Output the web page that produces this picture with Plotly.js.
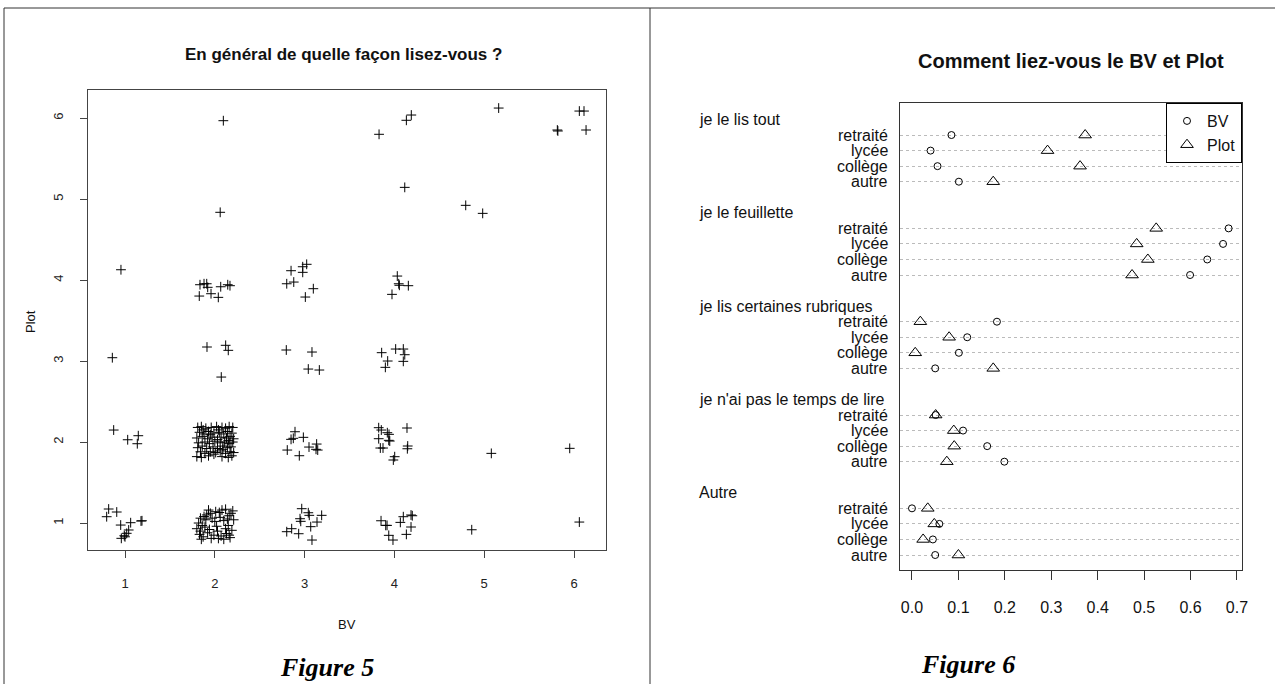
<!DOCTYPE html>
<html><head><meta charset="utf-8">
<script src="https://cdn.plot.ly/plotly-3.0.1.min.js"></script>
<style>html,body{margin:0;padding:0;background:#fff}#chart{width:1275px;height:684px}</style>
</head><body><div id="chart"></div><script>
// ---------- Figure 5: jittered scatter BV vs Plot ----------
const scatterBV = [
  2.095, 2.06, 0.955, 5.161, 6.059, 6.111, 5.814, 5.820, 6.134, 4.188, 4.133, 3.829, 4.115, 4.794, 4.983,
  1.835, 1.880, 1.910, 1.921, 2.066, 2.144, 2.169, 1.827, 1.958, 2.039,
  2.849, 2.979, 3.023, 2.979, 2.801, 2.879, 3.097, 3.008,
  4.032, 4.048, 4.055, 4.155, 3.973,
  0.859,
  1.913, 2.121, 2.150, 2.072,
  2.796, 3.082, 3.041, 3.164,
  3.858, 4.014, 4.099, 4.115, 3.925, 4.099, 3.899,
  0.874, 1.030, 1.148, 1.137,
  1.81, 1.85, 1.90, 1.96, 2.02, 2.08, 2.12, 2.16, 2.20,
  1.83, 1.88, 1.93, 1.99, 2.05, 2.10, 2.14, 2.19,
  1.80, 1.86, 1.92, 1.97, 2.03, 2.07, 2.13, 2.17, 2.21,
  1.82, 1.89, 1.94, 2.00, 2.06, 2.11, 2.16, 2.20,
  1.81, 1.86, 1.91, 1.98, 2.03, 2.09, 2.14, 2.18,
  1.84, 1.89, 1.95, 2.01, 2.06, 2.12, 2.17, 2.21,
  1.80, 1.85, 1.93, 2.08, 2.15, 2.19,
  1.87, 2.04, 2.15, 1.95, 2.09, 1.99,
  2.893, 2.849, 2.874, 2.986, 2.807, 2.941, 3.049, 3.134, 3.127, 3.146,
  3.825, 3.854, 3.921, 3.940, 4.140, 3.825, 3.937, 3.948, 3.843, 3.873, 4.148, 4.144, 4.003, 3.988,
  5.079, 5.952,
  0.818, 0.908, 0.796, 0.952, 1.063, 1.178, 1.189, 1.041, 1.019, 0.992, 0.959, 1.000,
  1.84, 1.88, 1.93, 1.95, 2.01, 2.05, 2.08, 2.12, 2.14, 2.18, 2.20,
  1.82, 1.86, 1.90, 1.97, 2.06, 2.10, 2.16, 2.21,
  1.80, 1.84, 1.89, 1.94, 2.02, 2.12, 2.15, 2.19,
  1.83, 1.87, 1.92, 1.99, 2.07, 2.13, 2.17,
  1.85, 1.96, 2.04, 2.10, 2.16, 1.91, 2.00, 2.03,
  2.968, 3.041, 3.052, 3.190, 2.949, 2.957, 3.138, 3.068, 2.801, 2.856, 2.934, 3.082,
  3.851, 3.903, 3.918, 4.099, 4.185, 4.199, 4.066, 4.185, 4.133, 3.937, 3.984,
  4.861, 6.059
];
const scatterPlot = [
  5.967, 4.836, 4.127, 6.123, 6.086, 6.086, 5.852, 5.840, 5.852, 6.037, 5.972, 5.799, 5.144, 4.922, 4.823,
  3.942, 3.954, 3.954, 3.910, 3.917, 3.942, 3.930, 3.802, 3.831, 3.786,
  4.115, 4.164, 4.194, 4.095, 3.954, 3.975, 3.893, 3.790,
  4.049, 3.954, 3.935, 3.930, 3.823,
  3.041,
  3.173, 3.194, 3.132, 2.802,
  3.136, 3.111, 2.901, 2.889,
  3.103, 3.148, 3.148, 3.078, 3.000, 2.996, 2.922,
  2.148, 2.028, 2.078, 1.979,
  2.18, 2.19, 2.17, 2.18, 2.19, 2.18, 2.17, 2.19, 2.18,
  2.12, 2.10, 2.13, 2.11, 2.12, 2.10, 2.13, 2.11,
  2.05, 2.07, 2.04, 2.06, 2.03, 2.06, 2.05, 2.07, 2.04,
  1.99, 2.00, 1.98, 2.01, 1.99, 2.00, 1.98, 2.00,
  1.93, 1.95, 1.92, 1.94, 1.92, 1.95, 1.93, 1.94,
  1.88, 1.86, 1.88, 1.87, 1.89, 1.86, 1.88, 1.87,
  1.82, 1.81, 1.83, 1.82, 1.81, 1.83,
  2.15, 2.15, 2.02, 2.09, 1.91, 1.85,
  2.127, 2.033, 2.046, 2.058, 1.901, 1.831, 1.938, 1.975, 1.910, 1.901,
  2.177, 2.148, 2.115, 2.095, 2.173, 2.041, 2.021, 2.012, 1.926, 1.926, 1.951, 1.917, 1.819, 1.778,
  1.860, 1.922,
  1.173, 1.136, 1.078, 0.975, 1.004, 1.025, 1.028, 0.914, 0.873, 0.843, 0.811, 0.830,
  1.06, 1.08, 1.16, 1.12, 1.14, 1.13, 1.16, 1.17, 1.05, 1.12, 1.15,
  1.00, 0.97, 1.04, 1.06, 1.07, 1.03, 1.09, 1.04,
  0.93, 0.90, 0.95, 0.92, 0.96, 0.93, 0.97, 0.91,
  0.86, 0.83, 0.88, 0.85, 0.84, 0.87, 0.82,
  0.80, 0.81, 0.81, 0.80, 0.85, 1.10, 1.02, 0.90,
  1.177, 1.127, 1.095, 1.095, 1.053, 1.021, 1.012, 0.955, 0.893, 0.930, 0.868, 0.790,
  1.028, 0.971, 0.971, 1.078, 1.099, 1.090, 1.008, 0.951, 0.860, 0.848, 0.790,
  0.917, 1.012
];
const scatterTicks = [1, 2, 3, 4, 5, 6];

// ---------- Figure 6: dot chart ----------
const groupNames = ["je le lis tout", "je le feuillette", "je lis certaines rubriques", "je n'ai pas le temps de lire", "Autre"];
const levelNames = ["retraité", "lycée", "collège", "autre"];
const bvValues = [
  [0.085, 0.040, 0.055, 0.101],
  [0.682, 0.670, 0.636, 0.599],
  [0.183, 0.119, 0.101, 0.050],
  [0.051, 0.110, 0.162, 0.199],
  [0.000, 0.059, 0.045, 0.050]
];
const plotValues = [
  [0.373, 0.292, 0.362, 0.175],
  [0.526, 0.484, 0.508, 0.474],
  [0.018, 0.080, 0.007, 0.175],
  [0.051, 0.090, 0.091, 0.075],
  [0.034, 0.048, 0.024, 0.100]
];
const dotTicks = [0, 0.1, 0.2, 0.3, 0.4, 0.5, 0.6, 0.7];

// dotchart row positions (R style: groups separated by 2 units, header one above)
const nG = groupNames.length, nL = levelNames.length;
const rowY = [], rowLabels = [], headerY = [];
const bvX = [], plotX = [], ptsY = [];
for (let g = 0; g < nG; g++) {
  const base = (nG - 1 - g) * (nL + 2);
  for (let l = 0; l < nL; l++) {
    const y = base + nL - l;
    rowY.push(y); rowLabels.push(levelNames[l]);
    bvX.push(bvValues[g][l]); plotX.push(plotValues[g][l]); ptsY.push(y);
  }
  headerY.push(base + nL + 1);
}

const W = 1275, H = 684;
const px = v => v / W, py = v => 1 - v / H;
const sans = "Liberation Sans, Arial, sans-serif";

const traces = [
  {x: scatterBV, y: scatterPlot, xaxis: 'x', yaxis: 'y', type: 'scatter', mode: 'markers', showlegend: false,
   marker: {symbol: 'cross-thin', size: 7, color: '#000', line: {width: 1, color: '#000'}}},
  {x: bvX, y: ptsY, xaxis: 'x2', yaxis: 'y2', type: 'scatter', mode: 'markers', name: 'BV',
   marker: {symbol: 'circle-open', size: 7, color: '#000', line: {width: 1}}},
  {x: plotX, y: ptsY, xaxis: 'x2', yaxis: 'y2', type: 'scatter', mode: 'markers', name: 'Plot',
   marker: {symbol: 'triangle-up-open', size: 11, color: '#000', line: {width: 1}}}
];

const ann = (text, x, y, size, extra) => Object.assign({text: text, x: px(x), y: py(y), xref: 'paper', yref: 'paper',
  xanchor: 'center', yanchor: 'middle', showarrow: false, font: {family: sans, size: size, color: '#111'}}, extra || {});
const serif = {family: 'Liberation Serif, Times New Roman, serif', size: 26, color: '#000'};
const annotations = [
  ann('<b>En général de quelle façon lisez-vous ?</b>', 343, 54, 17),
  ann('BV', 347, 624, 13),
  ann('Plot', 30, 322, 13, {textangle: -90}),
  ann('<b>Comment liez-vous le BV et Plot</b>', 1071, 61, 20),
  ann('<b><i>Figure 5</i></b>', 327, 667, 26, {font: serif}),
  ann('<b><i>Figure 6</i></b>', 968, 664, 26, {font: serif})
];
rowY.forEach((y, i) => annotations.push({text: rowLabels[i], x: px(890), xanchor: 'right', y: y, yanchor: 'middle', xref: 'paper', yref: 'y2', showarrow: false, font: {family: sans, size: 16, color: '#111'}}));
headerY.forEach((y, i) => annotations.push({text: groupNames[i], x: px(697), xanchor: 'left', y: y, yanchor: 'middle', xref: 'paper', yref: 'y2', showarrow: false, font: {family: sans, size: 16, color: '#111'}}));

const frame = {type: 'line', xref: 'paper', yref: 'paper', line: {color: '#333', width: 1}};
const shapes = [
  Object.assign({}, frame, {x0: px(4), x1: 1, y0: py(8), y1: py(8)}),
  Object.assign({}, frame, {x0: px(4), x1: px(4), y0: py(8), y1: 0}),
  Object.assign({}, frame, {x0: px(650), x1: px(650), y0: py(8), y1: 0})
];

const layout = {
  width: W, height: H, margin: {l: 0, r: 0, t: 0, b: 0},
  paper_bgcolor: '#fff', plot_bgcolor: '#fff',
  showlegend: true,
  legend: {x: px(1242), xanchor: 'right', y: py(103), yanchor: 'top', bgcolor: '#fff', bordercolor: '#000', borderwidth: 1,
           font: {family: sans, size: 16, color: '#111'}, itemwidth: 30, tracegroupgap: 0},
  xaxis: {domain: [px(88), px(606)], range: [0.588, 6.356], tickvals: scatterTicks, ticks: 'outside', ticklen: 7, tickcolor: '#444',
          showline: true, mirror: true, linecolor: '#444', showgrid: false, zeroline: false, ticklabelstandoff: 14,
          tickfont: {family: sans, size: 13, color: '#222'}, anchor: 'y'},
  yaxis: {domain: [py(550), py(90)], range: [0.667, 6.346], tickvals: scatterTicks, ticks: 'outside', ticklen: 7, tickcolor: '#444',
          showline: true, mirror: true, linecolor: '#444', showgrid: false, zeroline: false, tickangle: -90, ticklabelstandoff: 12,
          tickfont: {family: sans, size: 13, color: '#222'}, anchor: 'x'},
  xaxis2: {domain: [px(900), px(1242)], range: [-0.0258, 0.7108], tickvals: dotTicks, tickformat: '.1f', ticks: 'outside', ticklen: 9, tickcolor: '#333',
           showline: true, mirror: true, linecolor: '#333', showgrid: false, zeroline: false, ticklabelstandoff: 14,
           tickfont: {family: sans, size: 16, color: '#111'}, anchor: 'y2'},
  yaxis2: {domain: [py(570), py(103)], range: [0.036, 30.06], tickvals: rowY, showticklabels: false, ticks: '',
           showline: true, mirror: true, linecolor: '#333', showgrid: true, gridcolor: '#bbb', griddash: 'dot', gridwidth: 1,
           zeroline: false, anchor: 'x2'},
  annotations: annotations,
  shapes: shapes
};

Plotly.newPlot('chart', traces, layout, {displayModeBar: false, staticPlot: true});
</script></body></html>
